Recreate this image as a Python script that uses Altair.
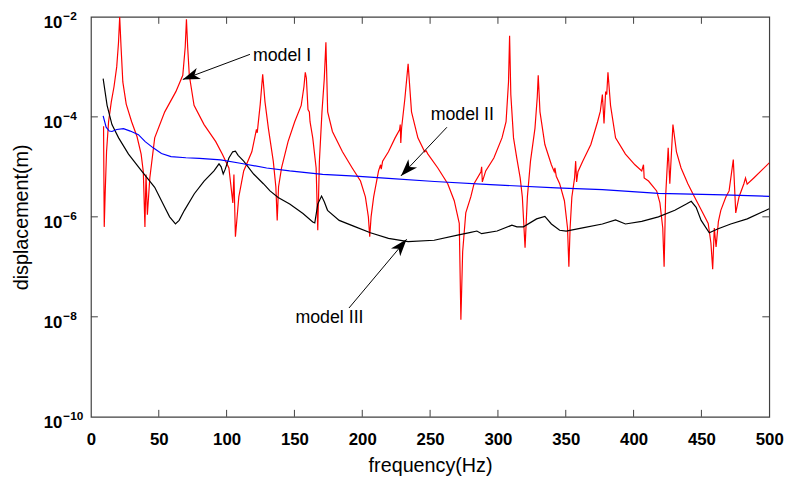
import altair as alt
import pandas as pd

# ---------------- data ----------------
# model I (red): (frequency Hz, displacement m)
model1 = [
    (9.3, 6.5e-5), (9.8, 6.3e-7), (10.5, 3.0e-6), (11.5, 2.0e-5), (13, 8.0e-5),
    (15, 2.0e-4), (17, 4.0e-4), (19, 1.0e-3), (20.3, 3.0e-3), (21.2, 1.0e-2),
    (22.2, 2.5e-3), (23.5, 5.0e-4), (26, 1.8e-4), (30, 8.0e-5), (34, 4.0e-5),
    (37, 1.8e-5), (38.6, 8.0e-6), (39.8, 6.3e-7), (40.6, 7.0e-6), (41.6, 1.1e-6),
    (43.4, 6.0e-6), (47, 3.8e-5), (54.4, 1.26e-4), (62.6, 3.2e-4), (67.7, 6.8e-4),
    (69.5, 2.5e-3), (70.4, 9.0e-3), (71.3, 2.5e-3), (72.5, 6.8e-4), (76, 1.7e-4),
    (83.4, 7.0e-5), (92, 3.2e-5), (96.8, 1.8e-5), (101.7, 9.5e-6), (104.6, 1.9e-6),
    (105.4, 7.0e-6), (106.5, 4.0e-7), (109, 2.5e-6), (112.6, 8.3e-6), (118.6, 2.0e-5),
    (122, 5.6e-5), (122.6, 4.8e-5), (123.2, 7.0e-5), (124.8, 1.8e-4), (126.6, 7.1e-4),
    (128.3, 2.0e-4), (130.8, 5.9e-5), (134.4, 1.3e-5), (136.3, 4.0e-6), (137.3, 8.5e-7),
    (138.3, 4.0e-6), (140.5, 9.5e-6), (145.3, 3.2e-5), (150.2, 8.0e-5), (155, 1.7e-4),
    (157, 4.0e-4), (158, 7.8e-4), (158.8, 6.0e-4), (160, 1.4e-4), (161, 1.26e-4),
    (161.5, 8.0e-5), (163.5, 3.8e-5), (166, 9.5e-6), (167.2, 5.4e-7), (168.4, 1.3e-5),
    (170.3, 1.26e-4), (172, 5.8e-4), (173.2, 3.1e-3), (174.5, 1.26e-4), (178, 5.1e-5),
    (185.4, 2.0e-5), (192.6, 9.5e-6), (198.7, 5.2e-6), (202.3, 2.5e-6), (204.5, 1.0e-6),
    (205.5, 4.0e-7), (206.5, 1.0e-6), (208.4, 2.5e-6), (212, 8.3e-6), (213.5, 1.1e-5),
    (214, 9.0e-6), (215, 1.3e-5), (219.3, 2.0e-5), (224.2, 3.8e-5), (227.5, 5.5e-5),
    (228, 7.0e-5), (228.4, 3.0e-5), (229, 6.0e-5), (231.4, 2.3e-4), (233.8, 1.15e-3),
    (236.3, 1.26e-4), (241, 3.8e-5), (246, 2.0e-5), (247, 2.1e-5), (248.4, 1.8e-5),
    (255.7, 9.5e-6), (263, 4.6e-6), (267.8, 2.1e-6), (271.5, 7.4e-7), (272.7, 8.7e-9),
    (274, 2.0e-7), (276.3, 1.2e-6), (280, 2.5e-6), (282.4, 4.6e-6), (287.5, 8.0e-6),
    (288, 1.0e-5), (288.5, 5.0e-6), (291, 8.3e-6), (297, 1.5e-5), (303, 3.8e-5),
    (306, 8.0e-5), (307.8, 5.0e-4), (308.6, 4.2e-3), (309.5, 2.8e-4), (311.5, 3.8e-5),
    (313.9, 1.5e-5), (316.4, 6.0e-6), (318, 2.5e-6), (320, 2.4e-7), (321.7, 2.5e-6),
    (324, 1.3e-5), (327.3, 5.9e-5), (329, 2.5e-4), (329.7, 6.8e-4), (331, 1.26e-4),
    (334.6, 2.8e-5), (339.4, 1.1e-5), (341.5, 8.0e-6), (342, 9.5e-6), (343, 6.5e-6),
    (345.5, 4.6e-6), (349, 2.1e-6), (351.3, 6.0e-7), (352.3, 1.0e-7), (353.2, 6.0e-7),
    (354.5, 2.5e-6), (356.5, 6.0e-6), (357.3, 1.3e-5), (358, 5.0e-6), (359, 8.0e-6),
    (362.5, 1.3e-5), (368.5, 2.8e-5), (373.4, 7.9e-5), (375.5, 1.3e-4), (377, 2.8e-4),
    (378.2, 7.4e-5), (379.4, 3.2e-4), (380.2, 2.8e-4), (381.1, 7.8e-4), (383, 1.7e-4),
    (386.7, 3.8e-5), (394, 1.8e-5), (401, 1.1e-5), (406, 8.3e-6), (407.3, 1.1e-5),
    (407.8, 6.0e-6), (411, 5.2e-6), (417, 3.3e-6), (419.4, 1.9e-6), (421.5, 6.0e-7),
    (422.5, 1.0e-7), (423.6, 2.5e-6), (425.5, 2.4e-5), (426.7, 4.6e-6), (429, 7.0e-5),
    (431.6, 2.0e-5), (435, 9.5e-6), (440, 4.6e-6), (443.7, 2.9e-6), (450, 1.35e-6),
    (455, 7.4e-7), (457, 3.0e-7), (458.3, 9.0e-8), (459.5, 6.0e-7), (460.8, 2.5e-7),
    (462.5, 8.0e-7), (464.3, 1.35e-6), (468, 2.5e-6), (470.4, 3.3e-6), (473.5, 1.4e-5),
    (475.3, 1.2e-6), (477.7, 2.5e-6), (481.3, 4.6e-6), (482.5, 6.0e-6), (483.7, 4.5e-6),
    (488.6, 6.0e-6), (500, 1.2e-5),
]

# model II (blue)
model2 = [
    (9, 1.05e-4), (11.2, 6.2e-5), (13.5, 5.2e-5), (15.5, 5.1e-5), (19, 5.6e-5),
    (24, 5.8e-5), (29, 5.2e-5), (35, 4.4e-5), (40, 3.2e-5), (45.9, 2.4e-5),
    (52, 1.85e-5), (59, 1.6e-5), (70, 1.52e-5), (80, 1.48e-5), (95.6, 1.38e-5),
    (110.1, 1.18e-5), (129.5, 9.5e-6), (146.5, 8.3e-6), (170.8, 7.1e-6), (195, 6.5e-6),
    (219.3, 5.9e-6), (253.3, 5.1e-6), (294.5, 4.4e-6), (343, 3.8e-6), (377, 3.5e-6),
    (418.3, 2.95e-6), (466.7, 2.75e-6), (500, 2.57e-6),
]

# model III (black)
model3 = [
    (9, 5.8e-4), (11.9, 1.7e-4), (15.5, 7.0e-5), (20.4, 3.8e-5), (27.7, 1.8e-5),
    (37.3, 8.3e-6), (47, 3.9e-6), (54.4, 1.55e-6), (58, 1.0e-6), (62.3, 7.2e-7),
    (65, 8.5e-7), (68.9, 1.35e-6), (76.2, 2.9e-6), (83.4, 5.2e-6), (90.7, 8.3e-6),
    (94.4, 1.15e-5), (96, 1.0e-5), (97.5, 7.2e-6), (99, 9.0e-6), (101.7, 1.5e-5),
    (104.5, 2.0e-5), (106.5, 2.05e-5), (108.5, 1.7e-5), (112.6, 1.3e-5), (119.9, 7.2e-6),
    (127.1, 4.6e-6), (132, 3.3e-6), (138, 2.45e-6), (146.5, 1.8e-6), (156.3, 1.17e-6),
    (163.5, 7.9e-7), (165, 7.6e-7), (167.2, 1.8e-6), (170, 2.6e-6), (172, 2.0e-6),
    (174.4, 1.35e-6), (183, 8.5e-7), (195, 6.3e-7), (206, 4.8e-7), (219.3, 3.7e-7),
    (233.8, 3.2e-7), (253, 3.4e-7), (270.2, 4.3e-7), (280, 4.9e-7), (284.5, 5.2e-7),
    (288, 4.6e-7), (299.4, 5.2e-7), (310.3, 6.8e-7), (314, 6.3e-7), (318.8, 6.3e-7),
    (328.5, 9.1e-7), (334.6, 1.02e-6), (339.4, 7.2e-7), (345.5, 5.4e-7), (350.3, 5.2e-7),
    (362.4, 6.0e-7), (377, 7.2e-7), (386.7, 8.7e-7), (394, 7.2e-7), (406, 8.1e-7),
    (418.3, 1.0e-6), (430.4, 1.35e-6), (438.9, 1.8e-6), (442.5, 2.05e-6), (446.1, 1.55e-6),
    (449.8, 8.5e-7), (455.8, 4.8e-7), (461.9, 5.7e-7), (471.6, 7.2e-7), (483.8, 9.1e-7),
    (500, 1.45e-6),
]

x_tick_values = [0, 50, 100, 150, 200, 250, 300, 350, 400, 450, 500]
x_inner_ticks = [50, 100, 150, 200, 250, 300, 350, 400, 450]
y_inner_ticks = [1e-8, 1e-6, 1e-4]
y_label_values = [1e-10, 1e-8, 1e-6, 1e-4, 1e-2]
y_label_base = ["10", "10", "10", "10", "10"]
y_label_exp = ["\u221210", "\u22128", "\u22126", "\u22124", "\u22122"]

ann_text = ["model I", "model II", "model III"]
ann_text_f = [119.4, 250.4, 150.7]
ann_text_y = [1.62e-3, 1.1e-4, 9.3e-9]
arrow_tail_f = [117.2, 262.4, 190.2]
arrow_tail_y = [1.78e-3, 6.2e-5, 1.5e-8]
arrow_tip_f = [67.7, 228.5, 232.7]
arrow_tip_y = [5.6e-4, 6.6e-6, 3.55e-7]
arrow_angle = [159.5, 133.6, 310.2]

# ---------------- chart ----------------
W, H = 687, 405
FONT = "Liberation Sans"
FRAME = "#404040"
TL = 7

xs = alt.Scale(domain=[0, 500], nice=False, zero=False)
ys = alt.Scale(type="log", domain=[1e-10, 1e-2], nice=False)

x_axis = alt.Axis(
    title="frequency(Hz)", values=x_tick_values, format="d", ticks=False, tickSize=0,
    domain=False, grid=False, labelFlush=False, labelFontSize=17,
    labelFontWeight="bold", labelColor="black", labelPadding=15,
    titleFontSize=20, titleFontWeight="normal", titleColor="black", titlePadding=8)
y_axis = alt.Axis(
    title="displacement(m)", labels=False, ticks=False, tickSize=0, domain=False,
    grid=False, titleFontSize=20, titleFontWeight="normal", titleColor="black",
    titlePadding=60)


def X(field):
    return alt.X(field, type="quantitative", scale=xs, axis=x_axis, title="frequency(Hz)")


def Y(field):
    return alt.Y(field, type="quantitative", scale=ys, axis=y_axis, title="displacement(m)")


def curve(points, color):
    df = pd.DataFrame(points, columns=["f", "d"])
    return alt.Chart(df).mark_line(color=color, strokeWidth=1.2, clip=True).encode(
        x=X("f"), y=Y("d"))


red = curve(model1, "#ff0000")
black = curve(model3, "#000000")
blue = curve(model2, "#0000ff")

# inward ticks on all four sides
xt = pd.DataFrame({"xt": x_inner_ticks})
yt = pd.DataFrame({"yt": y_inner_ticks})
tick_bottom = alt.Chart(xt).mark_rule(color=FRAME, strokeWidth=1).encode(
    x=X("xt"), y=alt.value(H), y2=alt.value(H - TL))
tick_top = alt.Chart(xt).mark_rule(color=FRAME, strokeWidth=1).encode(
    x=X("xt"), y=alt.value(0), y2=alt.value(TL))
tick_left = alt.Chart(yt).mark_rule(color=FRAME, strokeWidth=1).encode(
    y=Y("yt"), x=alt.value(0), x2=alt.value(TL))
tick_right = alt.Chart(yt).mark_rule(color=FRAME, strokeWidth=1).encode(
    y=Y("yt"), x=alt.value(W), x2=alt.value(W - TL))

# y tick labels 10^n
yl = pd.DataFrame({"v": y_label_values, "base": y_label_base, "exp": y_label_exp})
ylab_base = alt.Chart(yl).mark_text(align="right", baseline="middle", dy=6, fontSize=17,
                                    fontWeight="bold", font=FONT, color="black").encode(
    y=Y("v"), x=alt.value(-29), text="base:N")
ylab_exp = alt.Chart(yl).mark_text(align="left", baseline="middle", dy=-1, fontSize=12,
                                   fontWeight="bold", font=FONT, color="black").encode(
    y=Y("v"), x=alt.value(-28), text="exp:N")

# annotations
ann = pd.DataFrame({
    "t": ann_text, "tf": ann_text_f, "ty": ann_text_y,
    "af": arrow_tail_f, "ay": arrow_tail_y, "bf": arrow_tip_f, "by": arrow_tip_y,
    "ang": arrow_angle,
})
ann_labels = alt.Chart(ann).mark_text(align="left", baseline="middle", fontSize=18,
                                      font=FONT, color="black").encode(
    x=X("tf"), y=Y("ty"), text="t:N")
ann_lines = alt.Chart(ann).mark_rule(color="black", strokeWidth=1).encode(
    x=X("af"), y=Y("ay"), x2="bf:Q", y2="by:Q")
ann_heads = alt.Chart(ann).mark_point(
    shape="M0,0L-2,-0.7L-1.45,0L-2,0.7Z", filled=True, size=300, color="black",
    opacity=1, strokeWidth=0).encode(
    x=X("bf"), y=Y("by"), angle=alt.Angle("ang:Q", scale=None))

chart = alt.layer(
    red, black, blue,
    tick_bottom, tick_top, tick_left, tick_right,
    ylab_base, ylab_exp,
    ann_lines, ann_heads, ann_labels,
).properties(
    width=W, height=H,
    autosize=alt.AutoSizeParams(type="none"),
    padding={"left": 84, "top": 6, "right": 20, "bottom": 60},
).configure(font=FONT).configure_view(stroke=FRAME, strokeWidth=1.2)

chart.save("out.html", embed_options={"renderer": "svg", "actions": False})
